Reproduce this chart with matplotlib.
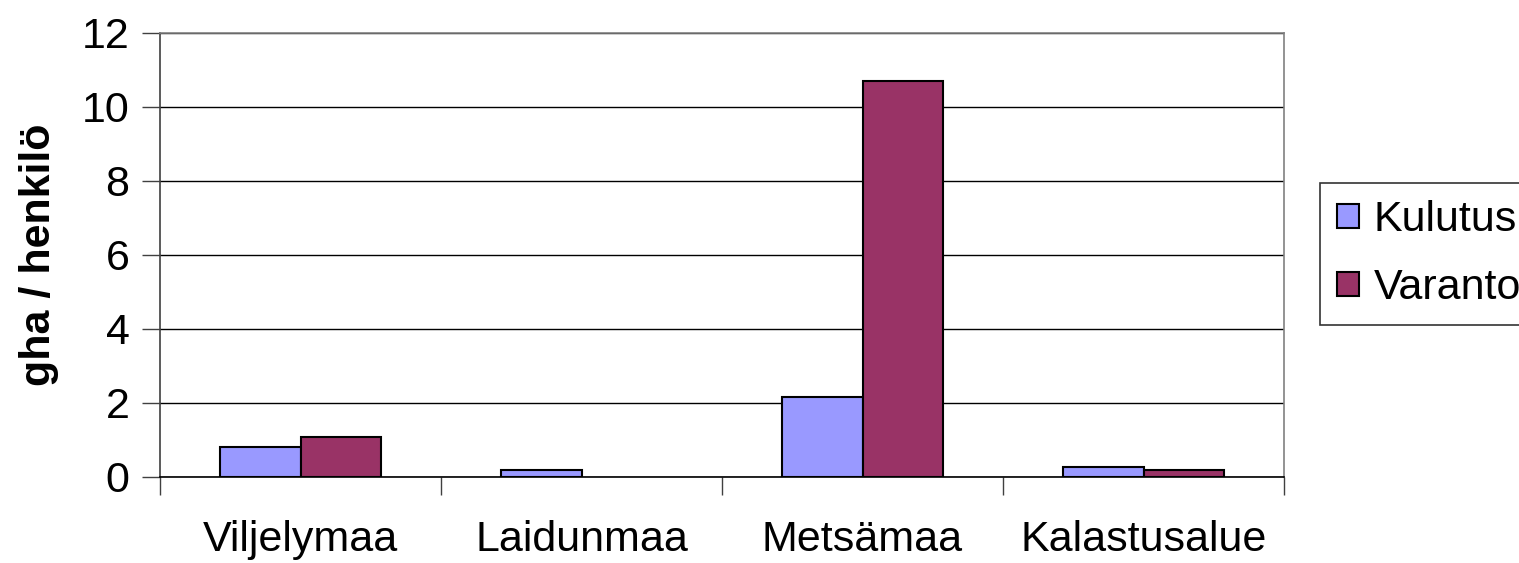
import numpy as np
import matplotlib
matplotlib.use("Agg")
import matplotlib.pyplot as plt

plt.rcParams['font.family'] = ['Liberation Sans', 'DejaVu Sans']

categories = ["Viljelymaa", "Laidunmaa", "Metsämaa", "Kalastusalue"]
kulutus = [0.81, 0.19, 2.15, 0.27]
varanto = [1.07, 0.0, 10.69, 0.19]
yticks = [0, 2, 4, 6, 8, 10, 12]

fig = plt.figure(figsize=(15.19, 5.63), dpi=100)
ax = fig.add_axes([160 / 1519, 1 - 476.7 / 563, 1124 / 1519, (476.7 - 32.5) / 563])

x = np.arange(len(categories))
w = 1 / 3.5
# no outline for empty bars
lw_k = [1.5 if v > 0 else 0 for v in kulutus]
lw_v = [1.5 if v > 0 else 0 for v in varanto]
ax.bar(x - w / 2, kulutus, w, color="#9999FF", edgecolor="black", linewidth=lw_k,
       label="Kulutus", zorder=3)
ax.bar(x + w / 2, varanto, w, color="#993366", edgecolor="black", linewidth=lw_v,
       label="Varanto", zorder=3)

ax.set_xlim(-0.5, len(categories) - 0.5)
ax.set_ylim(0, 12)
ax.set_yticks(yticks)
ax.set_yticklabels([str(t) for t in yticks], fontsize=31)
ax.yaxis.grid(True, color="black", linewidth=1)
ax.set_axisbelow(True)

# category labels centred, tick marks between categories
ax.set_xticks(np.arange(len(categories) + 1) - 0.5)
ax.set_xticklabels([])
ax.set_xticks(x, minor=True)
ax.set_xticklabels(categories, minor=True, fontsize=31)
ax.tick_params(axis="x", which="minor", length=0, pad=31)
ax.tick_params(axis="x", which="major", length=13, color="#404040", width=1)
ax.tick_params(axis="y", length=13, color="#404040", width=1, pad=9)

ax.spines["top"].set_color("#808080")
ax.spines["right"].set_color("#808080")
ax.spines["left"].set_color("#404040")
ax.spines["bottom"].set_color("black")
for s in ax.spines.values():
    s.set_linewidth(1.2)

ax.set_ylabel("gha / henkilö", fontsize=31, fontweight="bold", labelpad=16)

leg = fig.legend(loc="upper left", bbox_to_anchor=(1320 / 1519, 1 - 183 / 563),
                 fontsize=31, frameon=True, fancybox=False, edgecolor="black",
                 handlelength=0.5, handleheight=0.5, handletextpad=0.35,
                 borderpad=0.4, labelspacing=0.65, borderaxespad=0)
leg.get_frame().set_linewidth(1.2)

fig.savefig("out.png", dpi=100)
